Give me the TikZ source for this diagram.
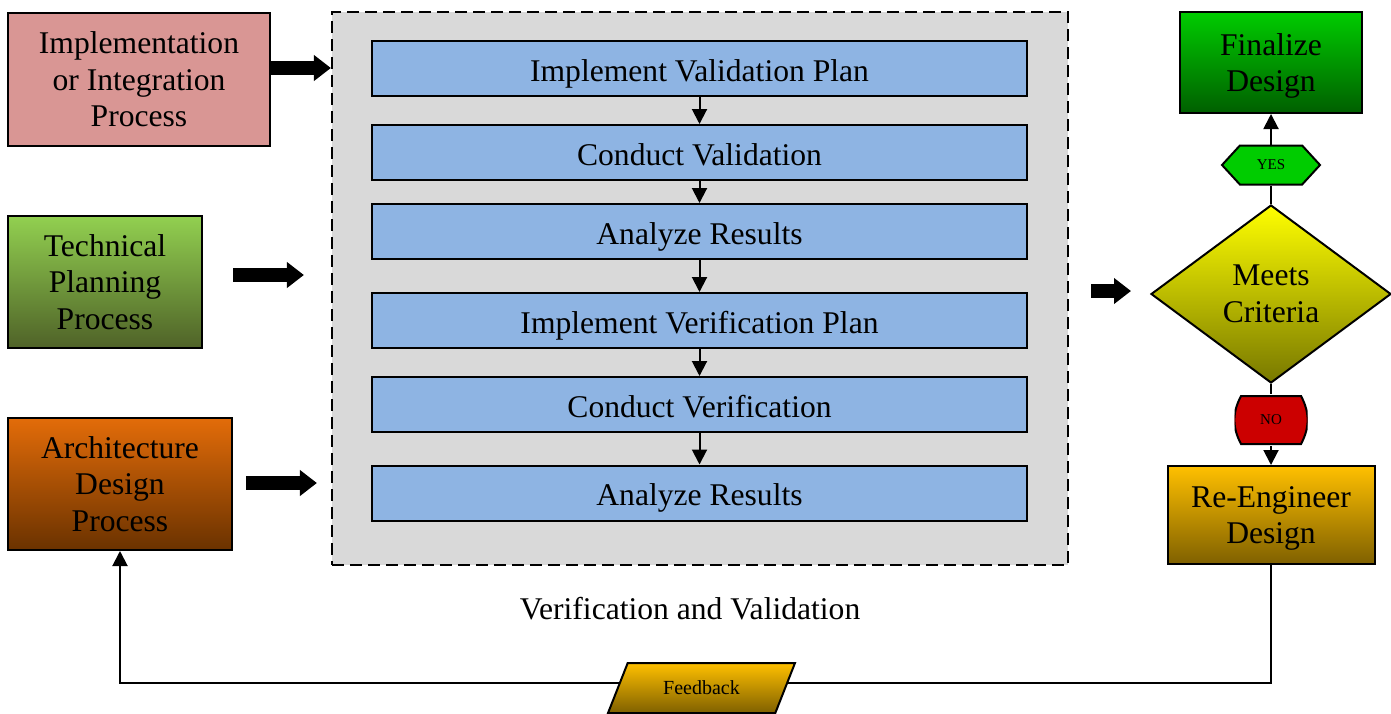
\documentclass[tikz,border=0pt]{standalone}
\usepackage{fontspec}
\setmainfont{Liberation Serif}
\usetikzlibrary{arrows.meta,shapes.geometric,shapes.misc,shapes.symbols}

\definecolor{implcol}{HTML}{D99694}
\definecolor{techtop}{HTML}{92D050}
\definecolor{techbot}{HTML}{4F6228}
\definecolor{archtop}{HTML}{E36C09}
\definecolor{archbot}{HTML}{6A3200}
\definecolor{vvgray}{HTML}{D9D9D9}
\definecolor{stepblue}{HTML}{8EB4E3}
\definecolor{fintop}{HTML}{00CC00}
\definecolor{finbot}{HTML}{005F00}
\definecolor{crittop}{HTML}{FFFF00}
\definecolor{critbot}{HTML}{787800}
\definecolor{nored}{HTML}{CC0000}
\definecolor{reengtop}{HTML}{FFC000}
\definecolor{reengbot}{HTML}{7F6000}

\begin{document}
\begin{tikzpicture}[x=1pt, y=-1pt, line width=2pt,
  every node/.style={font=\fontsize{31.6}{36.5}\selectfont, align=center, inner sep=0pt},
  box/.style={draw, rectangle},
  stepbox/.style={draw, rectangle, fill=stepblue, minimum width=655pt, minimum height=55pt, text height=25pt, text depth=0pt},
  smalltext/.style={font=\fontsize{15}{18}\selectfont},
  barrel/.style={minimum width=73pt, minimum height=50pt, path picture={
    \draw[fill=nored] ([shift={(-30pt,24pt)}]path picture bounding box.center) to[bend right=28]
      ([shift={(-30pt,-24pt)}]path picture bounding box.center) -- ([shift={(30pt,-24pt)}]path picture bounding box.center)
      to[bend right=28] ([shift={(30pt,24pt)}]path picture bounding box.center) -- cycle;}},
  tip/.style={-{Triangle[width=15pt,length=15pt]}},
  fatarrow/.style={line width=14pt, -{Triangle[width=25pt,length=17pt]}}]
\useasboundingbox (0,0) rectangle (1391,713);

% inputs
\node[box, fill=implcol, minimum width=262pt, minimum height=133pt] (impl) at (139,79.5) {Implementation\\or Integration\\Process};
\node[box, shade, top color=techtop, bottom color=techbot, minimum width=194pt, minimum height=132pt] (tech) at (105,282) {Technical\\Planning\\Process};
\node[box, shade, top color=archtop, bottom color=archbot, minimum width=224pt, minimum height=132pt] (arch) at (120,484) {Architecture\\Design\\Process};

% verification and validation
\node[draw, line width=2.2pt, dash pattern=on 12pt off 6pt, fill=vvgray, minimum width=736pt, minimum height=553pt] (vv) at (700,288.5) {};
\node (vvlabel) at (690,609) {Verification and Validation};
\node[stepbox] (ivalp) at (699.5,68.5) {Implement Validation Plan};
\node[stepbox] (cval) at (699.5,152.5) {Conduct Validation};
\node[stepbox] (ares1) at (699.5,231.5) {Analyze Results};
\node[stepbox] (iverp) at (699.5,320.5) {Implement Verification Plan};
\node[stepbox] (cver) at (699.5,404.5) {Conduct Verification};
\node[stepbox] (ares2) at (699.5,493) {Analyze Results};
\draw[tip] (ivalp) -- (cval);
\draw[tip] (cval) -- (ares1);
\draw[tip] (ares1) -- (iverp);
\draw[tip] (iverp) -- (cver);
\draw[tip] (cver) -- (ares2);

% decision
\node[draw, diamond, shade, top color=crittop, bottom color=critbot, minimum width=240pt, minimum height=178pt] (crit) at (1271,294) {Meets\\Criteria};
\node[draw, signal, signal to=west and east, signal pointer angle=95, fill=fintop, minimum width=98pt, minimum height=39pt, smalltext] (yes) at (1271,165) {YES};
\node[box, shade, top color=fintop, bottom color=finbot, minimum width=182pt, minimum height=101pt, text depth=0pt] (fin) at (1271,62.5) {Finalize\\Design};
\node[barrel, smalltext] (no) at (1271,420) {NO};
\node[box, shade, top color=reengtop, bottom color=reengbot, minimum width=207pt, minimum height=98pt, text depth=0pt] (reeng) at (1271,515) {Re-Engineer\\Design};
\draw (crit.north) -- (yes.south);
\draw[tip] (yes.north) -- (fin.south);
\draw (crit.south) -- (no.north);
\draw[tip] (no.south) -- (reeng.north);

% block arrows
\draw[fatarrow] ([yshift=11.5pt]impl.east) -- ([yshift=11.5pt]impl.east -| vv.west);
\draw[fatarrow] ([shift={(30pt,7pt)}]tech.east) -- ([shift={(-27pt,7pt)}]tech.east -| vv.west);
\draw[fatarrow] ([shift={(13pt,1pt)}]arch.east) -- ([shift={(-14pt,1pt)}]arch.east -| vv.west);
\draw[fatarrow] ([shift={(22pt,3pt)}]crit.west -| vv.east) -- ([shift={(-19pt,3pt)}]crit.west);

% feedback loop
\draw[tip] (reeng.south) -- ++(0,118) coordinate (fbturn) -| (arch.south);
\node[draw, trapezium, trapezium left angle=54, trapezium right angle=126, trapezium stretches=true, shade, top color=reengtop, bottom color=reengbot, minimum width=187pt, minimum height=50pt, font=\fontsize{20}{24}\selectfont] (fb) at (701.5,688) {Feedback};
\end{tikzpicture}
\end{document}
